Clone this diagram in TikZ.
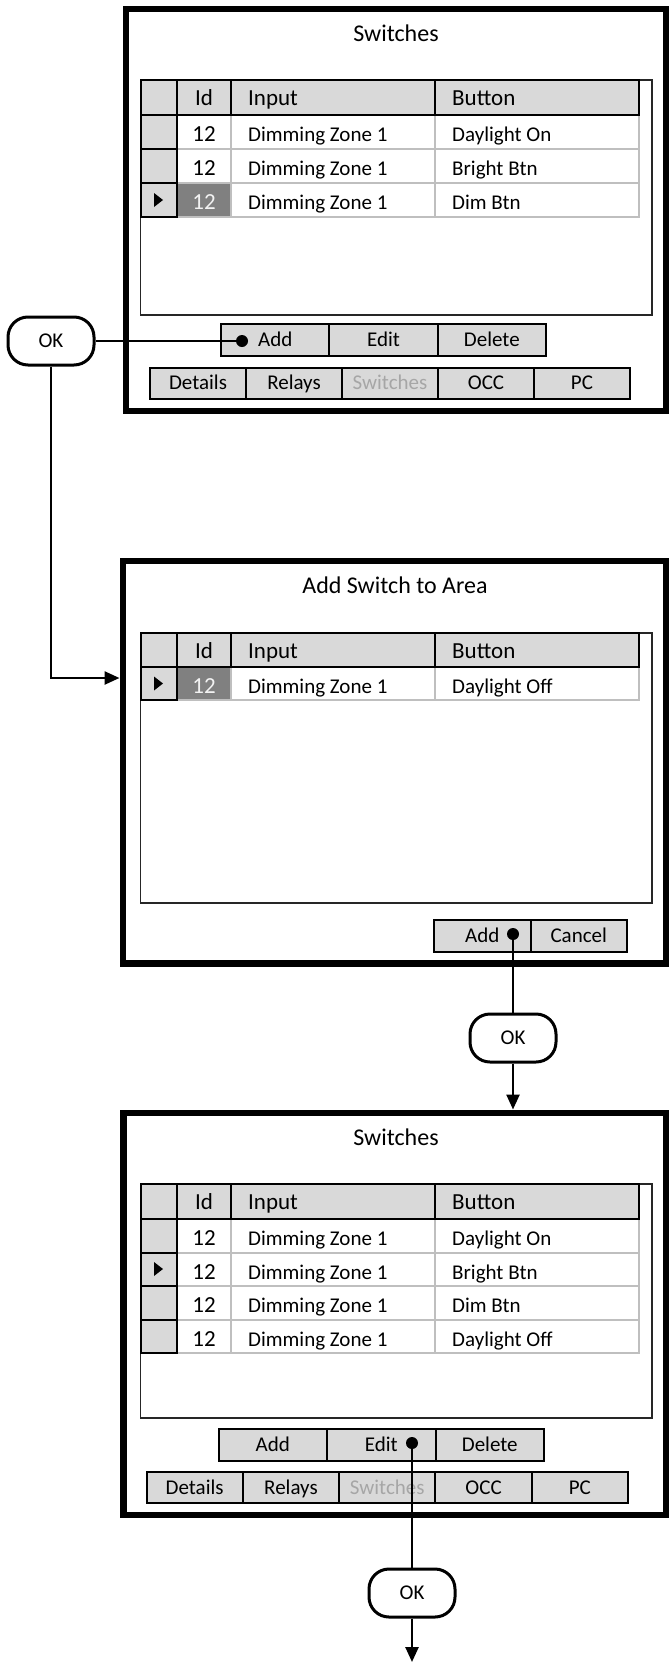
\documentclass[tikz,border=0pt]{standalone}
\usepackage{fontspec}
\setmainfont{Carlito}
\usetikzlibrary{arrows.meta}

\definecolor{cellgray}{HTML}{D9D9D9}
\definecolor{gridgray}{HTML}{BFBFBF}
\definecolor{selgray}{HTML}{808080}
\definecolor{tabgray}{HTML}{A6A6A6}

\tikzset{
  screen/.style={line width=6.5pt},
  tbl/.style={draw=black!85, line width=1.8pt},
  hcell/.style={draw=black, fill=cellgray, line width=2pt},
  dcell/.style={draw=gridgray, line width=2pt},
  btn/.style={draw, fill=cellgray, line width=2pt, inner sep=0pt,
    minimum height=32pt, text height=13.5pt, text depth=0pt,
    font=\fontsize{21}{24}\selectfont},
  tabbtn/.style={btn, minimum height=31pt},
  okbox/.style={draw, line width=3pt, rounded corners=20pt, fill=white,
    minimum width=86pt, minimum height=48pt, text height=13.5pt, text depth=0pt,
    font=\fontsize{21}{24}\selectfont},
  clickdot/.style={circle, fill, inner sep=0pt, minimum size=12pt},
  link/.style={line width=2.5pt},
  titletxt/.style={anchor=base, inner sep=0pt, font=\fontsize{24}{28}\selectfont},
  hdrtxt/.style={anchor=base west, inner sep=0pt, font=\fontsize{23}{26}\selectfont},
  idtxt/.style={anchor=base, inner sep=0pt, font=\fontsize{23}{26}\selectfont},
  datatxt/.style={anchor=base west, inner sep=0pt, font=\fontsize{21}{24}\selectfont},
}

\begin{document}
\begin{tikzpicture}[x=1pt, y=-1pt]
  \fill[white] (0,0) rectangle (669,1662);
  \useasboundingbox (0,0) rectangle (669,1662);

  % first screen
  \draw[screen] (126,9) rectangle (665.75,411);
  \node[titletxt] (title1) at (396,41.5) {Switches};

  \draw[tbl] (140.5,80) rectangle (652,315);
  \foreach \r/\b/\f/\c in {0/Daylight On/white/black, 1/Bright Btn/white/black, 2/Dim Btn/selgray/white!95!black} {
    \draw[dcell, fill=\f] (177,115+34*\r) rectangle (230.5,149+34*\r);
    \draw[dcell] (230.5,115+34*\r) rectangle (435,149+34*\r);
    \draw[dcell] (435,115+34*\r) rectangle (639,149+34*\r);
    \draw[hcell] (140.5,115+34*\r) rectangle (177,149+34*\r);
    \node[idtxt, text=\c] (ida\r) at (204,141.5+34*\r) {12};
    \node[datatxt] (ina\r) at (248,141.5+34*\r) {Dimming Zone 1};
    \node[datatxt] (bta\r) at (452,141.5+34*\r) {\b};
  }
  \foreach \xa/\xb in {140.5/177, 177/230.5, 230.5/435, 435/639}
    \draw[hcell] (\xa,80) rectangle (\xb,115);
  \node[idtxt] (hida) at (204,105) {Id};
  \node[hdrtxt] (hina) at (248,105) {Input};
  \node[hdrtxt] (hbta) at (452,105) {Button};
  \fill (154,193) -- (154,207) -- (163,200) -- cycle;

  \node[btn, minimum width=108.33pt] (add1) at (275.2,340) {Add};
  \node[btn, minimum width=108.33pt] (edit1) at (383.5,340) {Edit};
  \node[btn, minimum width=108.33pt] (del1) at (491.8,340) {Delete};

  \node[tabbtn, minimum width=96pt] (det1) at (198,383) {Details};
  \node[tabbtn, minimum width=96pt] (rel1) at (294,383) {Relays};
  \node[tabbtn, minimum width=96pt, text=tabgray] (sw1) at (390,383) {Switches};
  \node[tabbtn, minimum width=96pt] (occ1) at (486,383) {OCC};
  \node[tabbtn, minimum width=96pt] (pc1) at (582,383) {PC};

  % second screen
  \draw[screen] (123,561) rectangle (665.75,963.5);
  \node[titletxt] (title2) at (395,593.5) {Add Switch to Area};

  \draw[tbl] (140.5,633) rectangle (652,903);
  \draw[dcell, fill=selgray] (177,667) rectangle (230.5,700);
  \draw[dcell] (230.5,667) rectangle (435,700);
  \draw[dcell] (435,667) rectangle (639,700);
  \draw[hcell] (140.5,667) rectangle (177,700);
  \node[idtxt, text=white!95!black] (idb) at (204,693) {12};
  \node[datatxt] (inb) at (248,693) {Dimming Zone 1};
  \node[datatxt] (btb) at (452,693) {Daylight Off};
  \foreach \xa/\xb in {140.5/177, 177/230.5, 230.5/435, 435/639}
    \draw[hcell] (\xa,633) rectangle (\xb,667);
  \node[idtxt] (hidb) at (204,658) {Id};
  \node[hdrtxt] (hinb) at (248,658) {Input};
  \node[hdrtxt] (hbtb) at (452,658) {Button};
  \fill (154,676.5) -- (154,690.5) -- (163,683.5) -- cycle;

  \node[btn, minimum width=96.5pt] (add2) at (482.25,936) {Add};
  \node[btn, minimum width=96.5pt] (cancel2) at (578.75,936) {Cancel};

  % third screen
  \draw[screen] (123.5,1113) rectangle (665.75,1515);
  \node[titletxt] (title3) at (396,1145.5) {Switches};

  \draw[tbl] (140.5,1184) rectangle (652,1418);
  \foreach \r/\b in {0/Daylight On, 1/Bright Btn, 2/Dim Btn, 3/Daylight Off} {
    \draw[dcell] (177,1219+33.5*\r) rectangle (230.5,1252.5+33.5*\r);
    \draw[dcell] (230.5,1219+33.5*\r) rectangle (435,1252.5+33.5*\r);
    \draw[dcell] (435,1219+33.5*\r) rectangle (639,1252.5+33.5*\r);
    \draw[hcell] (140.5,1219+33.5*\r) rectangle (177,1252.5+33.5*\r);
    \node[idtxt] (idc\r) at (204,1245.5+33.5*\r) {12};
    \node[datatxt] (inc\r) at (248,1245.5+33.5*\r) {Dimming Zone 1};
    \node[datatxt] (btc\r) at (452,1245.5+33.5*\r) {\b};
  }
  \foreach \xa/\xb in {140.5/177, 177/230.5, 230.5/435, 435/639}
    \draw[hcell] (\xa,1184) rectangle (\xb,1219);
  \node[idtxt] (hidc) at (204,1209) {Id};
  \node[hdrtxt] (hinc) at (248,1209) {Input};
  \node[hdrtxt] (hbtc) at (452,1209) {Button};
  \fill (154,1262) -- (154,1276) -- (163,1269) -- cycle;

  \node[btn, minimum width=108.5pt] (add3) at (272.75,1445) {Add};
  \node[btn, minimum width=108.5pt] (edit3) at (381.25,1445) {Edit};
  \node[btn, minimum width=108.5pt] (del3) at (489.75,1445) {Delete};

  \node[tabbtn, minimum width=96.3pt] (det3) at (194.65,1487.5) {Details};
  \node[tabbtn, minimum width=96.3pt] (rel3) at (290.95,1487.5) {Relays};
  \node[tabbtn, minimum width=96.3pt, text=tabgray] (sw3) at (387.25,1487.5) {Switches};
  \node[tabbtn, minimum width=96.3pt] (occ3) at (483.55,1487.5) {OCC};
  \node[tabbtn, minimum width=96.3pt] (pc3) at (579.85,1487.5) {PC};

  % flow
  \node[okbox] (ok1) at (51,341) {OK};
  \node[okbox] (ok2) at (513,1038) {OK};
  \node[okbox] (ok3) at (412,1593) {OK};
  \node[clickdot] (dot1) at (242,341) {};
  \node[clickdot] (dot2) at (513,934) {};
  \node[clickdot] (dot3) at (412,1443) {};
  \coordinate (in2) at (119.5,678);
  \coordinate (in3) at (513,1109.5);
  \coordinate (out3) at (412,1662);

  \draw[link] (ok1) -- (dot1);
  \draw[link, -{Triangle[length=15pt,width=13pt]}] (ok1.south) |- (in2);
  \draw[link] (dot2) -- (ok2);
  \draw[link, -{Triangle[length=15pt,width=13pt]}] (ok2) -- (in3);
  \draw[link] (dot3) -- (ok3);
  \draw[link, -{Triangle[length=15pt,width=13pt]}] (ok3) -- (out3);
\end{tikzpicture}
\end{document}
